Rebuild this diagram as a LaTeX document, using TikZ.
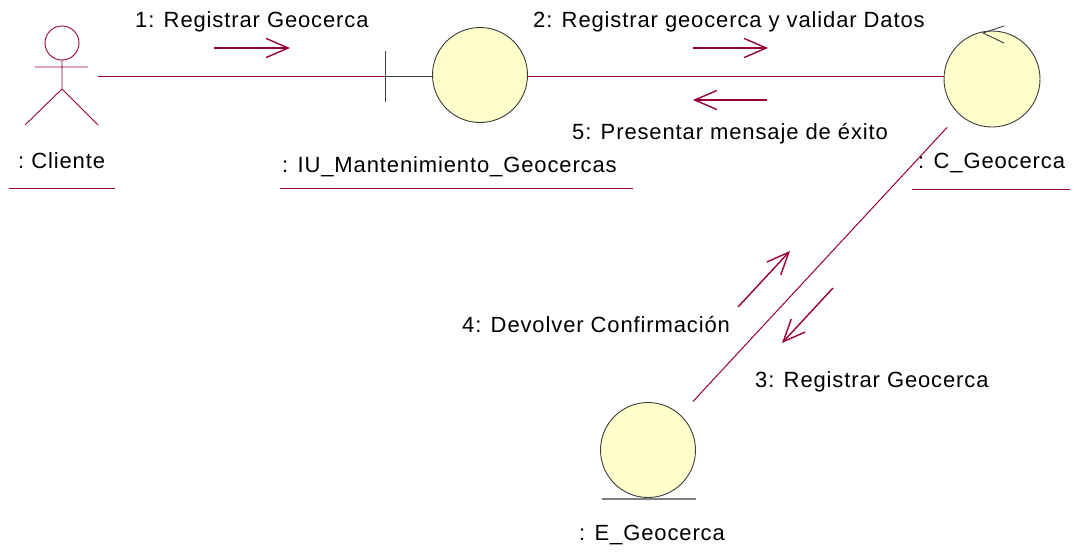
\documentclass[tikz,border=0pt]{standalone}
\usepackage{fontspec}
\setmainfont{Liberation Sans}[LetterSpace=4]
\usetikzlibrary{arrows.meta,calc}
\definecolor{umlred}{RGB}{153,0,51}
\definecolor{umlfill}{RGB}{255,255,204}
\definecolor{umledge}{RGB}{60,60,60}
\tikzset{
  lbl/.style={inner sep=0pt, anchor=base west, font=\fontsize{22}{26}\selectfont},
  objcircle/.style={circle, draw=umledge, fill=umlfill, line width=0.9pt, minimum size=95pt, inner sep=0pt},
  link/.style={draw=umlred, line width=1pt},
  msg/.style={draw=umlred, line width=1.4pt, -{Straight Barb[length=22pt,width=19pt,line width=1.4pt]}},
  uline/.style={draw=umlred, line width=1pt},
}
\begin{document}
\begin{tikzpicture}[x=1pt,y=-1pt]
\useasboundingbox (0,0) rectangle (1075,558);
% actor
\draw[umlred, line width=0.9pt] (62,43) circle (17);
\draw[umlred, line width=0.9pt] (35,67) -- (88,67) (62,60) -- (62,89) (25,125) -- (62,89) -- (98,125);
\coordinate (actorR) at (98,76);
\node[lbl] (clientelbl) at (18,168) {:\ Cliente};
\draw[uline] (9,188) -- (115,188);
% boundary
\node[objcircle] (bnd) at (480,75) {};
\coordinate (bar) at (385,76);
\draw[umledge, line width=0.9pt] (385,51) -- (385,102);
\draw[umledge, line width=0.9pt] (bar) -- (bnd.west |- bar);
\draw[link] (actorR) -- (bar);
\node[lbl] (bndlbl) at (282,172) {: IU\_Mantenimiento\_Geocercas};
\draw[uline] (280,188) -- (633,188);
% control
\node[objcircle, minimum size=96pt] (ctrl) at (992,79) {};
\draw[umledge, line width=0.9pt] ($(ctrl.center)+(12,-53)$) -- ($(ctrl.center)+(-9,-46)$) -- ($(ctrl.center)+(12,-36)$);
\node[lbl] (ctrllbl) at (918,168) {: C\_Geocerca};
\draw[uline] (912,189) -- (1070,189);
% entity
\node[objcircle] (ent) at (648,450) {};
\draw[gray, line width=1.6pt] ($(ent.south)+(-46,1)$) -- ($(ent.south)+(48,1)$);
\node[lbl] (entlbl) at (579,540) {: E\_Geocerca};
% links
\draw[link] (bnd.east |- bar) -- (bar -| ctrl.west);
\draw[link] ($(ctrl.center)!66pt!(ent.center)$) -- ($(ent.center)!66pt!(ctrl.center)$);
% messages
\coordinate (m1a) at (214,48); \coordinate (m1b) at (290,48);
\coordinate (m2a) at (693,48); \coordinate (m2b) at (768,48);
\coordinate (m5a) at (767,100); \coordinate (m5b) at (693,100);
\coordinate (m4a) at (738,307); \coordinate (m4b) at (790,251);
\coordinate (m3a) at (833,288); \coordinate (m3b) at (782,343);
\draw[msg] (m1a) -- (m1b);
\draw[msg] (m2a) -- (m2b);
\draw[msg] (m5a) -- (m5b);
\draw[msg] (m4a) -- (m4b);
\draw[msg] (m3a) -- (m3b);
\node[lbl] (l1) at (135,27) {1: Registrar Geocerca};
\node[lbl] (l2) at (533,27) {2: Registrar geocerca y validar Datos};
\node[lbl] (l5) at (572,139) {5: Presentar mensaje de éxito};
\node[lbl] (l4) at (462,332) {4: Devolver Confirmación};
\node[lbl] (l3) at (755,387) {3: Registrar Geocerca};
\end{tikzpicture}
\end{document}
